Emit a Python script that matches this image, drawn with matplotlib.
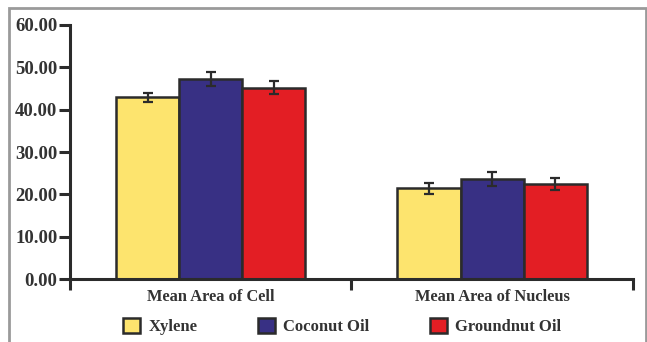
from matplotlib import pyplot as plt
from matplotlib.patches import Patch, Rectangle
import numpy as np

# values
categories = ['Mean Area of Cell', 'Mean Area of Nucleus']
series_names = ['Xylene', 'Coconut Oil', 'Groundnut Oil']
means = {
    'Xylene': [42.9, 21.4],
    'Coconut Oil': [47.3, 23.6],
    'Groundnut Oil': [45.2, 22.4],
}
errors = {
    'Xylene': [1.1, 1.4],
    'Coconut Oil': [1.6, 1.65],
    'Groundnut Oil': [1.6, 1.35],
}
y_ticks = [0, 10, 20, 30, 40, 50, 60]

COLORS = {'Xylene': '#FDE46E', 'Coconut Oil': '#383084', 'Groundnut Oil': '#E31E24'}
EDGE = '#2b2b2b'

plt.rcParams['font.family'] = ['Liberation Serif', 'DejaVu Serif']
plt.rcParams['font.weight'] = 'bold'

fig = plt.figure(figsize=(6.47, 3.42), dpi=100)
ax = fig.add_axes([0.108, 0.184, 0.870, 0.743])

x = np.arange(len(categories))
width = 0.224
for i, name in enumerate(series_names):
    ax.bar(x + (i - 1) * width, means[name], width, color=COLORS[name],
           edgecolor=EDGE, linewidth=1.8, zorder=2)
    ax.errorbar(x + (i - 1) * width, means[name], yerr=errors[name], fmt='none',
                ecolor=EDGE, elinewidth=1.6, capsize=3.5, capthick=1.6, zorder=3)

ax.set_xlim(-0.5, 1.5)
ax.set_ylim(0, 60)
ax.set_yticks(y_ticks)
ax.set_yticklabels([f'{v:.2f}' for v in y_ticks], fontsize=13.5, color='#333333')
ax.set_xticks([-0.5, 0.5, 1.5])
ax.set_xticklabels([])
ax.set_xticks(x, minor=True)
ax.set_xticklabels(categories, minor=True, fontsize=11.8, color='#333333')
ax.tick_params(axis='x', which='minor', length=0, pad=7)
ax.tick_params(axis='both', which='major', length=8, width=2.2, color=EDGE)
ax.tick_params(axis='y', pad=1)

for side in ['top', 'right']:
    ax.spines[side].set_visible(False)
for side in ['left', 'bottom']:
    ax.spines[side].set_linewidth(2.2)
    ax.spines[side].set_color(EDGE)

# outer frame
fig.patches.append(Rectangle((0.014, -0.1), 0.984, 1.077, transform=fig.transFigure,
                             fill=False, edgecolor='#9a9a9a', linewidth=2, zorder=0))

handles = [Patch(facecolor=COLORS[n], edgecolor=EDGE, linewidth=1.8, label=n) for n in series_names]
fig.legend(handles=handles, loc='center', bbox_to_anchor=(0.529, 0.045), ncol=3, frameon=False,
           fontsize=12, handlelength=1.0, handleheight=1.0, columnspacing=3.65, handletextpad=0.5,
           labelcolor='#333333')

plt.savefig('out.png', dpi=100)
plt.close()
